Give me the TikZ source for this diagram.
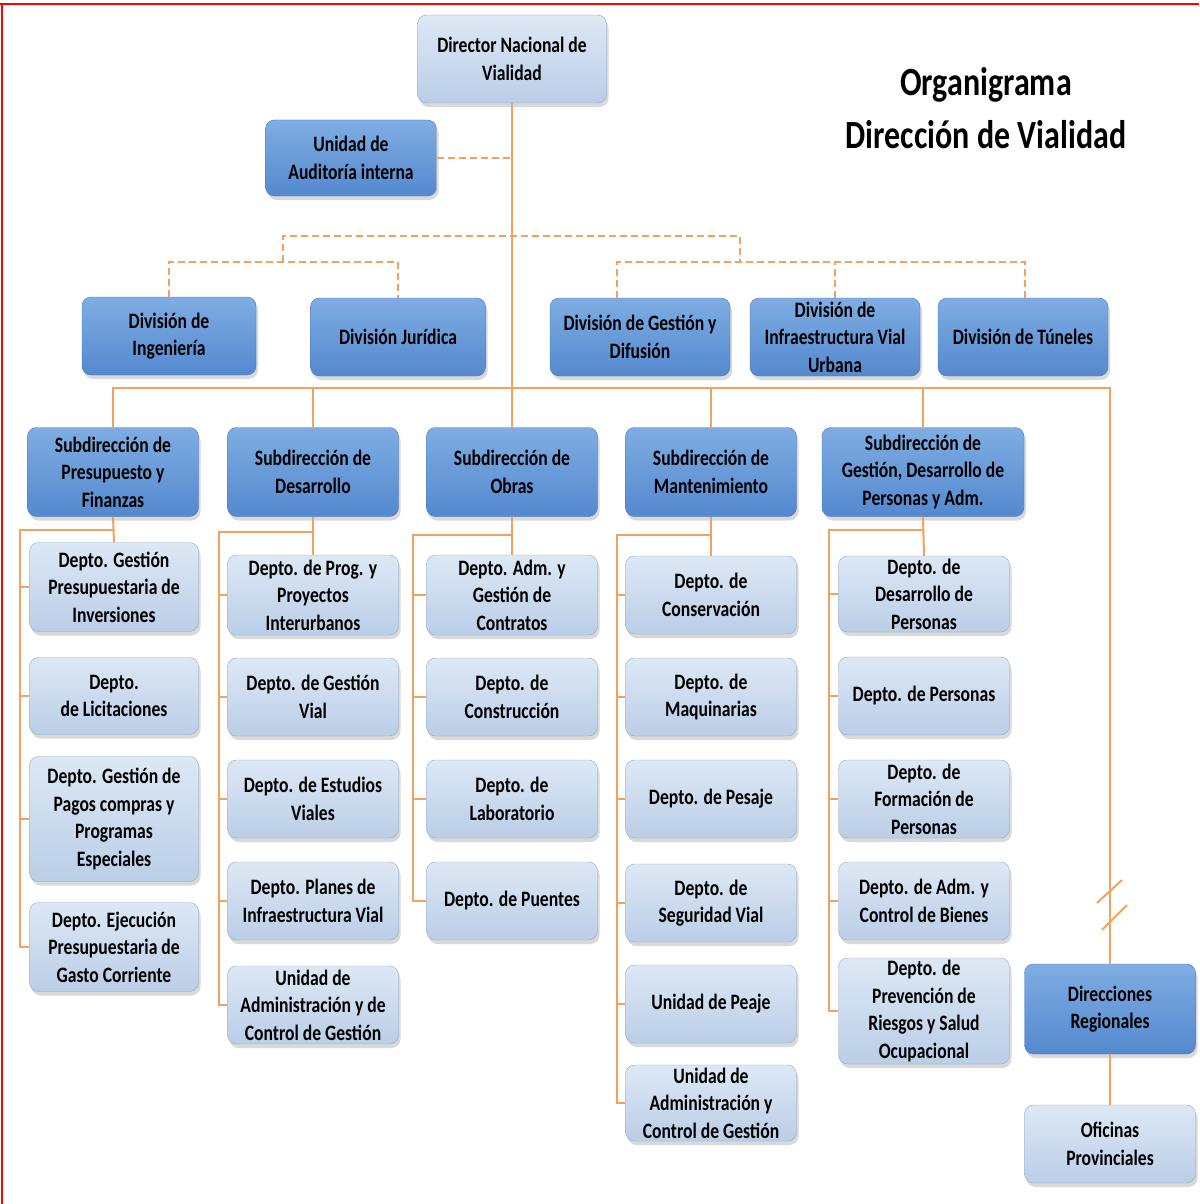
\documentclass[tikz,border=0pt]{standalone}
\usepackage{fontspec}
\setmainfont{Carlito}[FakeStretch=0.8]
\usetikzlibrary{shadows}

\definecolor{darkTop}{HTML}{7FADE3}
\definecolor{darkBot}{HTML}{5489CF}
\definecolor{darkEdge}{HTML}{4A78B4}
\definecolor{lightTop}{HTML}{DDE8F5}
\definecolor{lightBot}{HTML}{BACEE7}
\definecolor{lightEdge}{HTML}{8FA8C8}
\definecolor{linkOrange}{HTML}{F0A25E}

\tikzset{
  box/.style={rounded corners=9pt, align=center, inner sep=2pt,
    font=\bfseries\fontsize{22}{27.5}\selectfont,
    drop shadow={shadow xshift=2pt, shadow yshift=-4pt, opacity=0.3},
    minimum width=171pt, minimum height=78pt},
  darkbox/.style={box, draw=darkEdge, top color=darkTop, bottom color=darkBot},
  lightbox/.style={box, draw=lightEdge, top color=lightTop, bottom color=lightBot},
  link/.style={draw=linkOrange, line width=2pt},
  dashlink/.style={link, dash pattern=on 7pt off 4pt}
}

\begin{document}
\begin{tikzpicture}[x=1pt, y=-1pt]
  \useasboundingbox (0,0) rectangle (1199,1204);
  \draw[red, line width=2pt] (0,4) -- (1199,4);
  \draw[red, line width=2pt] (1.5,4) -- (1.5,1204);

  \node[font=\bfseries\fontsize{40}{53}\selectfont, align=center] (title) at (986,108)
    {Organigrama\\Dirección de Vialidad};

  \node[lightbox, minimum width=189pt, minimum height=88pt] (dir) at (512,59) {Director Nacional de\\Vialidad};
  \node[darkbox, minimum height=76pt] (aud) at (351,158) {Unidad de\\Auditoría interna};

  \node[darkbox, minimum width=174pt] (divI) at (169,336) {División de\\Ingeniería};
  \node[darkbox, minimum width=175pt] (divJ) at (398,337) {División Jurídica};
  \node[darkbox, minimum width=180pt] (divG) at (640,337) {División de Gestión y\\Difusión};
  \node[darkbox, minimum width=170pt] (divU) at (835,337) {División de\\Infraestructura Vial\\Urbana};
  \node[darkbox, minimum width=170pt] (divT) at (1023,337) {División de Túneles};

  \node[darkbox, minimum height=89pt] (s1) at (113,472) {Subdirección de\\Presupuesto y\\Finanzas};
  \node[darkbox, minimum height=89pt] (s2) at (313,472) {Subdirección de\\Desarrollo};
  \node[darkbox, minimum height=89pt] (s3) at (512,472) {Subdirección de\\Obras};
  \node[darkbox, minimum height=89pt] (s4) at (711,472) {Subdirección de\\Mantenimiento};
  \node[darkbox, minimum width=202pt, minimum height=89pt] (s5) at (923,472) {Subdirección de\\Gestión, Desarrollo de\\Personas y Adm.};

  \node[lightbox, minimum width=169pt, minimum height=89pt] (d1a) at (114,587) {Depto. Gestión\\Presupuestaria de\\Inversiones};
  \node[lightbox, minimum width=169pt, minimum height=77pt] (d1b) at (114,696) {Depto.\\de Licitaciones};
  \node[lightbox, minimum width=169pt, minimum height=125pt] (d1c) at (114,819) {Depto. Gestión de\\Pagos compras y\\Programas\\Especiales};
  \node[lightbox, minimum width=169pt, minimum height=89pt] (d1d) at (114,947) {Depto. Ejecución\\Presupuestaria de\\Gasto Corriente};

  \node[lightbox, minimum height=80pt] (d2a) at (313,595) {Depto. de Prog. y\\Proyectos\\Interurbanos};
  \node[lightbox] (d2b) at (313,697) {Depto. de Gestión\\Vial};
  \node[lightbox] (d2c) at (313,799) {Depto. de Estudios\\Viales};
  \node[lightbox] (d2d) at (313,901) {Depto. Planes de\\Infraestructura Vial};
  \node[lightbox] (d2e) at (313,1005) {Unidad de\\Administración y de\\Control de Gestión};

  \node[lightbox, minimum height=80pt] (d3a) at (512,595) {Depto. Adm. y\\Gestión de\\Contratos};
  \node[lightbox] (d3b) at (512,697) {Depto. de\\Construcción};
  \node[lightbox] (d3c) at (512,799) {Depto. de\\Laboratorio};
  \node[lightbox] (d3d) at (512,901) {Depto. de Puentes};

  \node[lightbox] (d4a) at (711,595) {Depto. de\\Conservación};
  \node[lightbox] (d4b) at (711,697) {Depto. de\\Maquinarias};
  \node[lightbox] (d4c) at (711,799) {Depto. de Pesaje};
  \node[lightbox] (d4d) at (711,903) {Depto. de\\Seguridad Vial};
  \node[lightbox] (d4e) at (711,1004) {Unidad de Peaje};
  \node[lightbox, minimum height=76pt] (d4f) at (711,1103) {Unidad de\\Administración y\\Control de Gestión};

  \node[lightbox, minimum height=76pt] (d5a) at (924,594) {Depto. de\\Desarrollo de\\Personas};
  \node[lightbox] (d5b) at (924,696) {Depto. de Personas};
  \node[lightbox] (d5c) at (924,799) {Depto. de\\Formación de\\Personas};
  \node[lightbox] (d5d) at (924,901) {Depto. de Adm. y\\Control de Bienes};
  \node[lightbox, minimum height=106pt] (d5e) at (924,1011) {Depto. de\\Prevención de\\Riesgos y Salud\\Ocupacional};

  \node[darkbox, minimum height=90pt] (dreg) at (1110,1009) {Direcciones\\Regionales};
  \node[lightbox] (ofic) at (1110,1144) {Oficinas\\Provinciales};

  \coordinate (busL) at (113,388);
  \coordinate (busR) at (1110,388);
  \coordinate (legL) at (283,236);
  \coordinate (legR) at (740,236);
  \coordinate (barL) at (170,262);
  \coordinate (gesL) at (617,262);
  \coordinate (barR) at (1025,262);
  \coordinate (c1) at (20,530);
  \coordinate (c2) at (219,532);
  \coordinate (c3) at (413,535);
  \coordinate (c4) at (617,535);
  \coordinate (c5) at (829,530);

  \draw[dashlink] (aud.east) -- (aud.east -| dir.south);
  \draw[dashlink] (legL |- barL) |- (legR) -- (legR |- barL);
  \draw[dashlink] (divI.north) |- (divJ.north |- barL) -- (divJ.north);
  \draw[dashlink] (gesL |- divG.north) -- (gesL) -- (barR) -- (barR |- divT.north);
  \draw[dashlink] (divU.north) -- (divU.north |- barL);

  \draw[link] (dir.south) -- (dir.south |- busL);
  \draw[link] (s1.north) |- (busR) -- (dreg.north);
  \foreach \s in {s2,s3,s4,s5}
    \draw[link] (\s.north) -- (\s.north |- busL);
  \draw[link] (1097,903) -- (1122,880);
  \draw[link] (1102,930) -- (1127,905);
  \draw[link] (dreg.south) -- (ofic.north);

  \draw[link] (s1.south) -- (d1a.north);
  \draw[link] (s1.south |- c1) -- (c1) |- (d1d.west);
  \foreach \d in {d1a,d1b,d1c}
    \draw[link] (c1 |- \d.west) -- (\d.west);

  \draw[link] (s2.south) -- (d2a.north);
  \draw[link] (s2.south |- c2) -- (c2) |- (d2e.west);
  \foreach \d in {d2a,d2b,d2c,d2d}
    \draw[link] (c2 |- \d.west) -- (\d.west);

  \draw[link] (s3.south) -- (d3a.north);
  \draw[link] (s3.south |- c3) -- (c3) |- (d3d.west);
  \foreach \d in {d3a,d3b,d3c}
    \draw[link] (c3 |- \d.west) -- (\d.west);

  \draw[link] (s4.south) -- (d4a.north);
  \draw[link] (s4.south |- c4) -- (c4) |- (d4f.west);
  \foreach \d in {d4a,d4b,d4c,d4d,d4e}
    \draw[link] (c4 |- \d.west) -- (\d.west);

  \draw[link] (s5.south) -- (d5a.north);
  \draw[link] (s5.south |- c5) -- (c5) |- (d5e.west);
  \foreach \d in {d5a,d5b,d5c,d5d}
    \draw[link] (c5 |- \d.west) -- (\d.west);
\end{tikzpicture}
\end{document}
